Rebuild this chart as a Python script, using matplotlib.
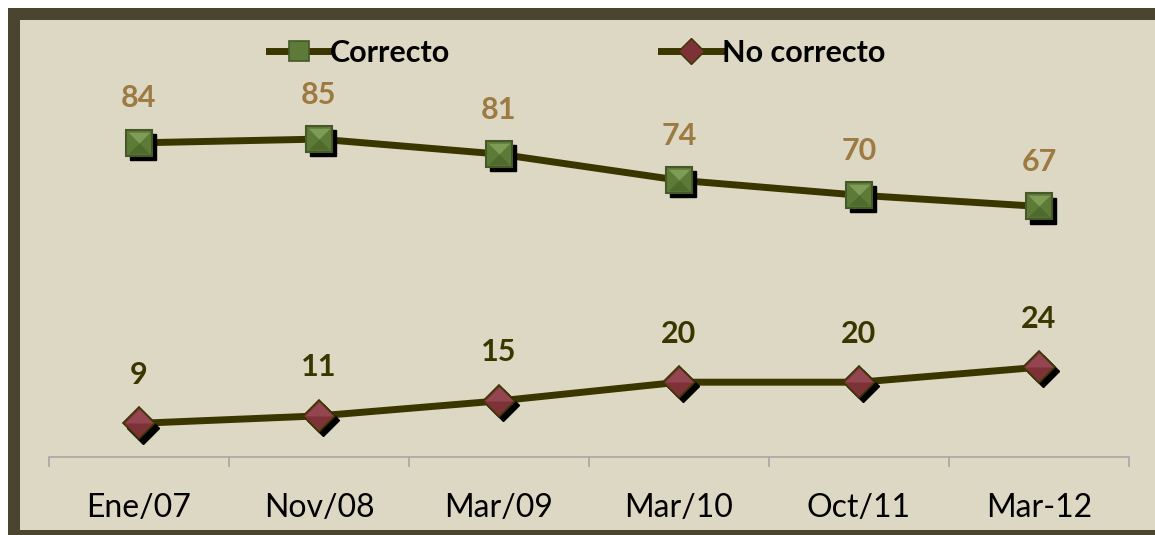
import matplotlib
matplotlib.use("Agg")
import matplotlib.pyplot as plt
from matplotlib.patches import Rectangle
from matplotlib.lines import Line2D
from matplotlib.path import Path
import matplotlib.transforms as mtransforms

categories = ["Ene/07", "Nov/08", "Mar/09", "Mar/10", "Oct/11", "Mar-12"]
correcto = [84, 85, 81, 74, 70, 67]
no_correcto = [9, 11, 15, 20, 20, 24]

BG = "#ddd8c3"
FRAME = "#4b4530"
LINE = "#3b3600"
GREEN = "#5d7b37"
GREEN_LIGHT = "#7f9c57"
GREEN_DARK = "#4e6a2c"
GREEN_EDGE = "#46582a"
RED = "#7d3238"
RED_LIGHT = "#934550"
LABEL_C = "#9c7a42"
LABEL_N = "#3b3600"
FONT = ["Lato", "DejaVu Sans"]

W, H = 1155, 535
fig = plt.figure(figsize=(W / 100, H / 100), dpi=100, facecolor="white")

# frame background
frame = Rectangle((14 / W, 1 - 536 / H), (1163 - 14) / W, (536 - 14) / H,
                  transform=fig.transFigure, facecolor=BG, edgecolor=FRAME,
                  linewidth=12 * 72 / 100, clip_on=False, zorder=-10)
fig.patches.append(frame)

ax = fig.add_axes([49 / W, 78 / H, (1129 - 49) / W, (457 - 83) / H])
ax.set_zorder(5)
ax.set_facecolor("none")
x = list(range(len(categories)))
ax.set_xlim(-0.5, len(categories) - 0.5)
ax.set_ylim(0, 100)

shadow = mtransforms.offset_copy(ax.transData, fig=fig, x=3, y=-3, units="points")

SQ = 18.5
DM = 16.5
top_tri = Path([(-1, 1), (1, 1), (0, 0), (-1, 1)], closed=True)
bot_tri = Path([(-1, -1), (1, -1), (0, 0), (-1, -1)], closed=True)
dia_top = Path([(-1, 0), (0, 1), (1, 0), (-1, 0)], closed=True)

ax.plot(x, correcto, color=LINE, lw=5, solid_capstyle="round", zorder=2)
ax.plot(x, no_correcto, color=LINE, lw=5, solid_capstyle="round", zorder=2)
ax.plot(x, correcto, ls="none", marker="s", ms=SQ, color="black", transform=shadow, zorder=3)
ax.plot(x, no_correcto, ls="none", marker="D", ms=DM, color="black", transform=shadow, zorder=3)
ax.plot(x, correcto, ls="none", marker="s", ms=SQ, mfc=GREEN, mec=GREEN_EDGE, mew=1.5, zorder=4)
ax.plot(x, correcto, ls="none", marker=top_tri, ms=SQ - 3, mfc=GREEN_LIGHT, mew=0, zorder=5)
ax.plot(x, correcto, ls="none", marker=bot_tri, ms=SQ - 3, mfc=GREEN_DARK, mew=0, zorder=5)
ax.plot(x, no_correcto, ls="none", marker="D", ms=DM, mfc=RED, mec=LINE, mew=1.2, zorder=4)
ax.plot(x, no_correcto, ls="none", marker=dia_top, ms=DM * 1.414 - 3, mfc=RED_LIGHT, mew=0, zorder=5)

for xi, v in zip(x, correcto):
    ax.annotate(str(v), (xi, v), xytext=(0, 32), textcoords="offset points",
                ha="center", va="center", color=LABEL_C, fontsize=22,
                fontweight="bold", family=FONT)
for xi, v in zip(x, no_correcto):
    ax.annotate(str(v), (xi, v), xytext=(0, 35), textcoords="offset points",
                ha="center", va="center", color=LABEL_N, fontsize=22,
                fontweight="bold", family=FONT)

for s in ["left", "top", "right"]:
    ax.spines[s].set_visible(False)
ax.spines["bottom"].set_color("#a6a6a6")
ax.spines["bottom"].set_linewidth(1.2)
ax.set_yticks([])
ax.set_xticks(x)
ax.set_xticklabels(categories, family=FONT, fontsize=23, color="black")
ax.tick_params(axis="x", which="major", length=0, pad=26)
ax.set_xticks([i - 0.5 for i in range(len(categories) + 1)], minor=True)
ax.tick_params(axis="x", which="minor", length=7.5, color="#a6a6a6", width=1.2)

handles = [
    Line2D([], [], color=LINE, lw=5, marker="s", ms=15, mfc=GREEN, mec=GREEN_EDGE, mew=1.2),
    Line2D([], [], color=LINE, lw=5, marker="D", ms=13, mfc=RED, mec=LINE, mew=1.0),
]
leg = fig.legend(handles, ["Correcto", "No correcto"], loc="center",
                 bbox_to_anchor=(0.5, 1 - 53 / H), ncol=2, frameon=False,
                 handlelength=1.95, handletextpad=0.05, columnspacing=6.9,
                 prop={"family": FONT, "weight": "bold", "size": 22})

fig.savefig("out.png", dpi=100, facecolor="white")
